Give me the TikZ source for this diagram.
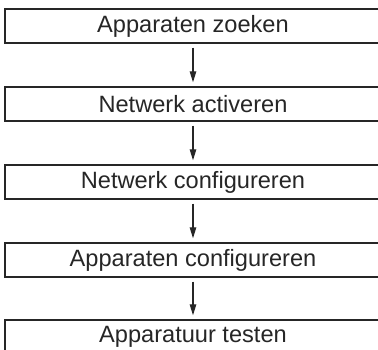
\documentclass[tikz,border=0pt]{standalone}
\usepackage{fontspec}
\setmainfont{Liberation Sans}
\usetikzlibrary{arrows.meta}
\definecolor{ink}{HTML}{262626}
\begin{document}
\begin{tikzpicture}[x=1pt,y=-1pt,
  stepbox/.style={draw=ink, line width=1.4pt, minimum width=376pt, minimum height=34pt,
    inner sep=0pt, text=ink, font=\fontsize{23.6}{26}\selectfont},
  arr/.style={draw=ink, line width=1.2pt, -{Triangle[length=11pt,width=6.5pt]},
    shorten <=4pt, shorten >=4pt}]
\clip (0,0) rectangle (378,350);
\useasboundingbox (0,0) rectangle (378,350);
\node[stepbox] (s1) at (193,26) {Apparaten zoeken};
\node[stepbox] (s2) at (193,104) {Netwerk activeren};
\node[stepbox] (s3) at (193,182) {Netwerk configureren};
\node[stepbox] (s4) at (193,260) {Apparaten configureren};
\node[stepbox] (s5) at (193,337) {Apparatuur testen};
\draw[arr] (s1) -- (s2);
\draw[arr] (s2) -- (s3);
\draw[arr] (s3) -- (s4);
\draw[arr] (s4) -- (s5);
\end{tikzpicture}
\end{document}
